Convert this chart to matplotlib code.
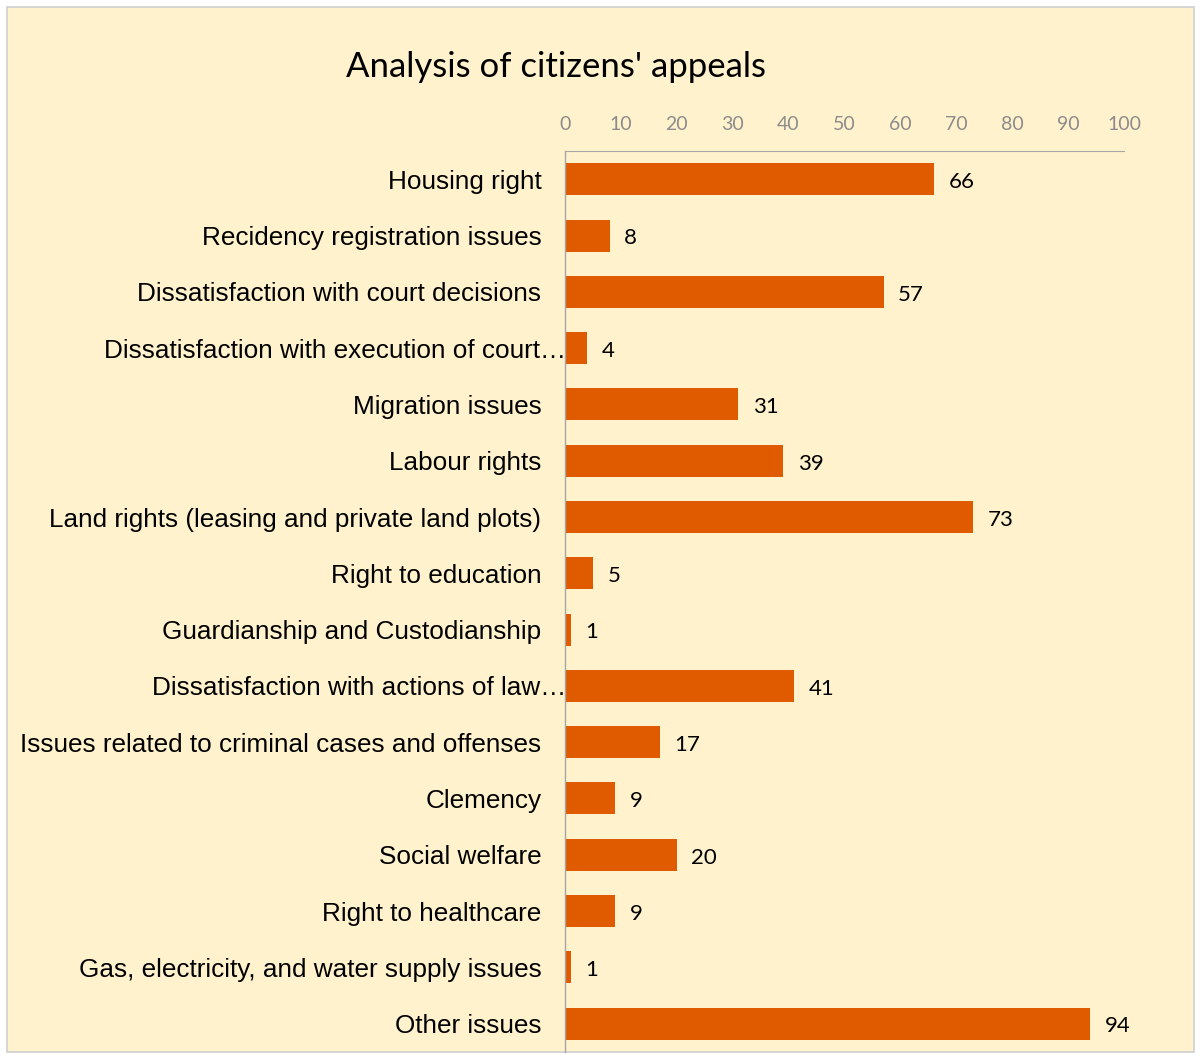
import matplotlib
matplotlib.use("Agg")
import matplotlib.pyplot as plt
import matplotlib.transforms as mtransforms
from matplotlib.patches import Rectangle

categories = [
    "Housing right",
    "Recidency registration issues",
    "Dissatisfaction with court decisions",
    "Dissatisfaction with execution of court\u2026",
    "Migration issues",
    "Labour rights",
    "Land rights (leasing and private land plots)",
    "Right to education",
    "Guardianship and Custodianship",
    "Dissatisfaction with actions of law\u2026",
    "Issues related to criminal cases and offenses",
    "Clemency",
    "Social welfare",
    "Right to healthcare",
    "Gas, electricity, and water supply issues",
    "Other issues",
]
values = [66, 8, 57, 4, 31, 39, 73, 5, 1, 41, 17, 9, 20, 9, 1, 94]
x_ticks = [0, 10, 20, 30, 40, 50, 60, 70, 80, 90, 100]

BG = "#FFF2CC"
BAR = "#E05A00"

fig = plt.figure(figsize=(12, 10.57), dpi=100, facecolor="white")
fig.patches.append(Rectangle((0.006, 0.005), 0.989, 0.988, transform=fig.transFigure,
                             facecolor=BG, edgecolor="#d0d0d0", linewidth=1.2, zorder=-1))

ax = fig.add_axes([0.4708, 0.005, 0.4659, 0.852])
ax.set_facecolor("none")
pos = range(len(categories))
ax.barh(pos, values, height=0.57, color=BAR)
ax.set_ylim(len(categories) - 0.5, -0.5)
ax.set_xlim(0, 100)

ax.xaxis.tick_top()
ax.set_xticks(x_ticks)
ax.set_xticklabels([str(t) for t in x_ticks], fontfamily="Lato", fontsize=14, color="#8c8c8c")
ax.tick_params(axis="x", length=0, pad=13)
ax.set_yticks(list(pos))
ax.set_yticklabels(categories, fontfamily="Liberation Sans", fontsize=18.8, color="black")
ax.tick_params(axis="y", length=0, pad=17)

# truncated labels run on past the axis line, like Excel does
shift = mtransforms.ScaledTranslation(25 / 100, 0, fig.dpi_scale_trans)
for lab in ax.get_yticklabels():
    if lab.get_text().endswith("\u2026"):
        lab.set_transform(lab.get_transform() + shift)

for s in ("right", "bottom"):
    ax.spines[s].set_visible(False)
ax.spines["top"].set_color("#a6a6a6")
ax.spines["left"].set_color("#a6a6a6")
ax.spines["left"].set_linewidth(1.0)

for i, v in enumerate(values):
    ax.text(v + 2.6, i + 0.05, str(v), va="center", ha="left", fontfamily="Lato",
            fontsize=16, color="black")

fig.text(0.463, 0.937, "Analysis of citizens' appeals", ha="center", va="center",
         fontfamily="Lato", fontsize=25, color="black")

fig.savefig("out.png", dpi=100, facecolor=fig.get_facecolor())
